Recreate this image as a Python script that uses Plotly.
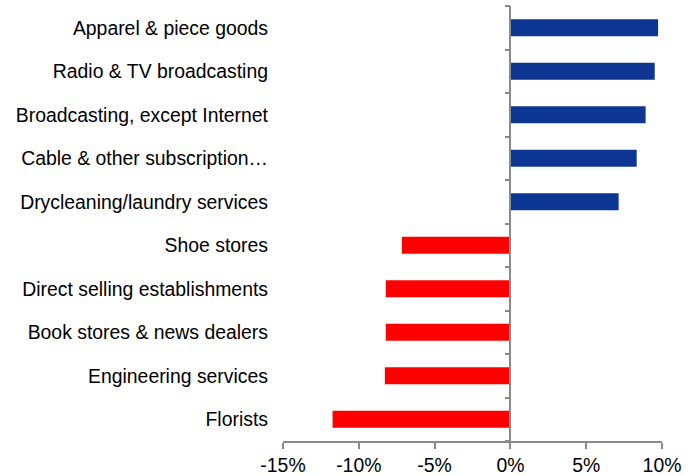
import plotly.graph_objects as go

categories = [
    "Apparel & piece goods",
    "Radio & TV broadcasting",
    "Broadcasting, except Internet",
    "Cable & other subscription…",
    "Drycleaning/laundry services",
    "Shoe stores",
    "Direct selling establishments",
    "Book stores & news dealers",
    "Engineering services",
    "Florists",
]
values = [9.74, 9.52, 8.92, 8.33, 7.14, -7.16, -8.22, -8.22, -8.28, -11.73]

x_tickvals = [-15, -10, -5, 0, 5, 10]
x_ticktext = ["-15%", "-10%", "-5%", "0%", "5%", "10%"]

BLUE = "#0D3692"
RED = "#FF0000"
AXIS = "#8A8A8A"
FONT = "Liberation Sans, Arial, sans-serif"
FS = 19.4

colors = [BLUE if v >= 0 else RED for v in values]

fig = go.Figure()
fig.add_trace(go.Bar(
    x=values,
    y=categories,
    orientation="h",
    marker=dict(color=colors, line=dict(width=0)),
    hoverinfo="x+y",
    showlegend=False,
))
# helper invisible trace so the zero-position axis is drawn
fig.add_trace(go.Scatter(
    x=[None], y=[None], xaxis="x", yaxis="y2",
    mode="markers", showlegend=False, hoverinfo="skip",
))

n = len(categories)
zero_pos = (0 - x_tickvals[0]) / (x_tickvals[-1] - x_tickvals[0])

fig.update_layout(
    width=700,
    height=475,
    margin=dict(l=283, r=38, t=6, b=34, pad=0, autoexpand=False),
    paper_bgcolor="white",
    plot_bgcolor="white",
    bargap=0.61,
    font=dict(family=FONT, size=FS, color="#000000"),
    xaxis=dict(
        range=[x_tickvals[0], x_tickvals[-1]],
        tickvals=x_tickvals,
        ticktext=x_ticktext,
        showgrid=False,
        zeroline=False,
        showline=True,
        linecolor=AXIS,
        linewidth=1.5,
        ticks="outside",
        ticklen=6,
        tickwidth=1.5,
        tickcolor=AXIS,
        ticklabelstandoff=0,
        tickfont=dict(size=FS, family=FONT, color="#000000"),
        automargin=False,
        fixedrange=True,
    ),
    yaxis=dict(
        categoryorder="array",
        categoryarray=list(reversed(categories)),
        range=[-0.5, n - 0.5],
        showgrid=False,
        zeroline=False,
        showline=False,
        ticks="",
        ticklabelstandoff=14,
        tickfont=dict(size=FS, family=FONT, color="#000000"),
        automargin=False,
        fixedrange=True,
    ),
    yaxis2=dict(
        overlaying="y",
        anchor="free",
        position=zero_pos,
        side="left",
        range=[-0.5, n - 0.5],
        tickvals=[i - 0.5 for i in range(n + 1)],
        showticklabels=False,
        showgrid=False,
        zeroline=False,
        showline=True,
        linecolor=AXIS,
        linewidth=1.5,
        ticks="outside",
        ticklen=5,
        tickwidth=1.5,
        tickcolor=AXIS,
        automargin=False,
        fixedrange=True,
    ),
)

fig.write_html(
    "out.html",
    config={"displayModeBar": False},
    post_script="document.body.style.margin='0';document.body.style.overflow='hidden';",
)
